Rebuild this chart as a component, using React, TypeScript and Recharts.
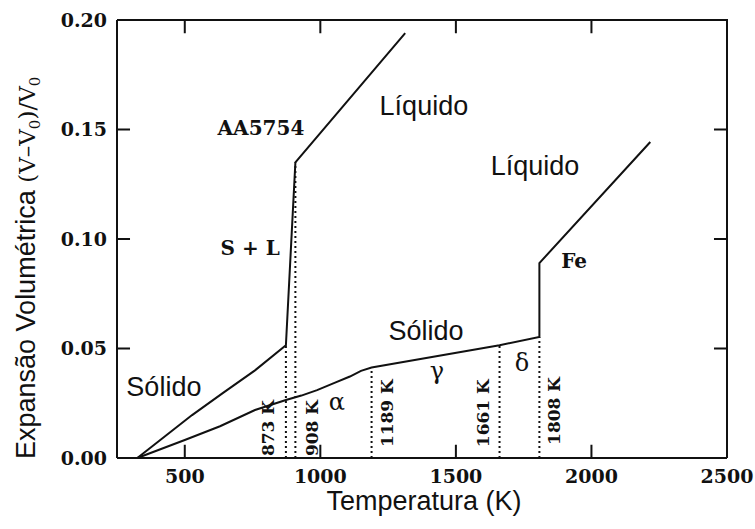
import React from 'react'
import { LineChart, Line, XAxis, YAxis, ReferenceLine, ReferenceDot } from 'recharts'

// Volumetric expansion (V - V0)/V0 versus temperature (K)
const aaTemp = [325, 527, 640, 759, 873, 908, 1313]
const aaExp = [0, 0.0196, 0.0296, 0.04, 0.0515, 0.135, 0.194]

const feTemp = [325, 500, 630, 759, 873, 930, 988, 1050, 1109, 1150, 1189, 1661, 1808, 1808, 2217]
const feExp = [0, 0.0082, 0.0145, 0.0219, 0.0265, 0.0285, 0.031, 0.0342, 0.0372, 0.0398, 0.0413, 0.0515, 0.0553, 0.089, 0.1443]

// phase transition temperatures and where their dotted guide stops
const transTemp = [873, 908, 1189, 1661, 1808]
const transTop = [0.0515, 0.135, 0.0413, 0.0515, 0.0553]
const transLabels = ['873 K', '908 K', '1189 K', '1661 K', '1808 K']

const xTicks = [500, 1000, 1500, 2000, 2500]
const yTicks = [0, 0.05, 0.1, 0.15, 0.2]
const xInner = [500, 1000, 1500, 2000]
const yInner = [0.05, 0.1, 0.15]

const X_MIN = 250
const X_MAX = 2500
const Y_MIN = 0
const Y_MAX = 0.2

const aaData = aaTemp.map((T, i) => ({ T, v: aaExp[i] }))
const feData = feTemp.map((T, i) => ({ T, v: feExp[i] }))

const SANS = 'Liberation Sans, Arial, sans-serif'
const SERIF = 'DejaVu Serif, serif'
const INK = '#111'
// inward tick length (~13px) in axis units
const TICK_DX = 48
const TICK_DY = 0.006

type Pt = { T: number; v: number | null }

// top and right edges of the box
const boxEdge: Pt[] = [
  { T: X_MIN, v: Y_MAX },
  { T: X_MAX, v: Y_MAX },
  { T: X_MAX, v: Y_MIN },
]

// inward ticks on all four sides, separated by gaps
const boxTicks: Pt[] = [
  ...xInner.flatMap((t) => [
    { T: t, v: Y_MIN },
    { T: t, v: Y_MIN + TICK_DY },
    { T: t, v: null },
    { T: t, v: Y_MAX },
    { T: t, v: Y_MAX - TICK_DY },
    { T: t, v: null },
  ]),
  ...yInner.flatMap((t) => [
    { T: X_MIN, v: t },
    { T: X_MIN + TICK_DX, v: t },
    { T: X_MIN, v: null },
    { T: X_MAX, v: t },
    { T: X_MAX - TICK_DX, v: t },
    { T: X_MAX, v: null },
  ]),
]

type Note = { text: string; T: number; v: number; kind: 'sans' | 'bold' | 'greek' }

const notes: Note[] = [
  { text: 'Líquido', T: 1382, v: 0.1607, kind: 'sans' },
  { text: 'Líquido', T: 1792, v: 0.1333, kind: 'sans' },
  { text: 'Sólido', T: 423, v: 0.0324, kind: 'sans' },
  { text: 'Sólido', T: 1390, v: 0.058, kind: 'sans' },
  { text: 'AA5754', T: 781, v: 0.1507, kind: 'bold' },
  { text: 'S + L', T: 741, v: 0.0959, kind: 'bold' },
  { text: 'Fe', T: 1936, v: 0.09, kind: 'bold' },
  { text: 'α', T: 1061, v: 0.0256, kind: 'greek' },
  { text: 'γ', T: 1430, v: 0.0395, kind: 'greek' },
  { text: 'δ', T: 1744, v: 0.0434, kind: 'greek' },
]

// which side of the dotted line each temperature label sits on, and its height
const transSide = [-18, 17, 15, -17, 15]
const transMid = [0.0137, 0.0137, 0.0205, 0.0205, 0.0215]

const noteStyle = (kind: Note['kind']) => {
  if (kind === 'sans') return { fontFamily: SANS, fontSize: 27 }
  if (kind === 'bold') return { fontFamily: SERIF, fontSize: 20, fontWeight: 'bold' as const }
  return { fontFamily: SERIF, fontSize: 24 }
}

const tickFont = { fontFamily: SERIF, fontSize: 19, fill: INK, fontWeight: 'bold' as const }

const BottomLabel = (p: any) => (
  <text x={p.x} y={p.y + 12} dy="0.71em" textAnchor="middle" {...tickFont}>
    {p.payload.value}
  </text>
)

const LeftLabel = (p: any) => (
  <text x={p.x - 10} y={p.y} dy="0.355em" textAnchor="end" {...tickFont}>
    {Number(p.payload.value).toFixed(2)}
  </text>
)

export default function App() {
  return (
    <div style={{ position: 'absolute', left: 0, top: 0, width: 755, height: 529, background: '#fff' }}>
      <LineChart width={755} height={529} margin={{ top: 20, right: 28, bottom: 0, left: 0 }}>
        <XAxis
          xAxisId="b"
          type="number"
          dataKey="T"
          domain={[X_MIN, X_MAX]}
          ticks={xTicks}
          height={71}
          tickSize={0}
          tickMargin={0}
          axisLine={{ stroke: '#111', strokeWidth: 2 }}
          tickLine={false}
          tick={BottomLabel}
          interval={0}
        />
        <YAxis
          yAxisId="l"
          type="number"
          domain={[Y_MIN, Y_MAX]}
          ticks={yTicks}
          width={117}
          tickSize={0}
          tickMargin={0}
          axisLine={{ stroke: '#111', strokeWidth: 2 }}
          tickLine={false}
          tick={LeftLabel}
          interval={0}
        />

        <Line
          xAxisId="b"
          yAxisId="l"
          data={boxEdge}
          dataKey="v"
          type="linear"
          stroke="#111"
          strokeWidth={2}
          dot={false}
          activeDot={false}
          isAnimationActive={false}
        />
        <Line
          xAxisId="b"
          yAxisId="l"
          data={boxTicks}
          dataKey="v"
          type="linear"
          stroke="#111"
          strokeWidth={2}
          dot={false}
          activeDot={false}
          connectNulls={false}
          isAnimationActive={false}
        />

        {transTemp.map((T, i) => (
          <ReferenceLine
            key={'tl' + i}
            xAxisId="b"
            yAxisId="l"
            segment={[{ x: T, y: 0 }, { x: T, y: transTop[i] }]}
            stroke="#111"
            strokeWidth={2}
            strokeDasharray="2 3"
          />
        ))}

        <Line
          xAxisId="b"
          yAxisId="l"
          data={aaData}
          dataKey="v"
          type="linear"
          stroke="#111"
          strokeWidth={2}
          dot={false}
          activeDot={false}
          isAnimationActive={false}
        />
        <Line
          xAxisId="b"
          yAxisId="l"
          data={feData}
          dataKey="v"
          type="linear"
          stroke="#111"
          strokeWidth={2}
          dot={false}
          activeDot={false}
          isAnimationActive={false}
        />

        {transTemp.map((T, i) => (
          <ReferenceDot
            key={'tx' + i}
            xAxisId="b"
            yAxisId="l"
            x={T}
            y={transMid[i]}
            r={0}
            shape={(p: any) => {
              const x = p.cx + transSide[i]
              return (
                <text
                  x={x}
                  y={p.cy}
                  transform={`rotate(-90, ${x}, ${p.cy})`}
                  textAnchor="middle"
                  dominantBaseline="central"
                  fontFamily={SERIF}
                  fontSize={17}
                  fontWeight="bold"
                  fill={INK}
                >
                  {transLabels[i]}
                </text>
              )
            }}
          />
        ))}

        {notes.map((n, i) => (
          <ReferenceDot
            key={'n' + i}
            xAxisId="b"
            yAxisId="l"
            x={n.T}
            y={n.v}
            r={0}
            shape={(p: any) => (
              <text
                x={p.cx}
                y={p.cy}
                textAnchor="middle"
                dominantBaseline="central"
                fill={INK}
                {...noteStyle(n.kind)}
              >
                {n.text}
              </text>
            )}
          />
        ))}
      </LineChart>

      <svg width={755} height={529} style={{ position: 'absolute', left: 0, top: 0, pointerEvents: 'none' }}>
        <text x={424} y={510} textAnchor="middle" fontFamily={SANS} fontSize={27} fill={INK}>
          Temperatura (K)
        </text>
        <text x={35} y={459} transform="rotate(-90, 35, 459)" fill={INK}>
          <tspan fontFamily={SANS} fontSize={27}>Expansão Volumétrica </tspan>
          <tspan fontFamily={SERIF} fontSize={23}>(V–V</tspan>
          <tspan fontFamily={SERIF} fontSize={15} dy={5}>0</tspan>
          <tspan fontFamily={SERIF} fontSize={23} dy={-5}>)/V</tspan>
          <tspan fontFamily={SERIF} fontSize={15} dy={5}>0</tspan>
        </text>
      </svg>
    </div>
  )
}
